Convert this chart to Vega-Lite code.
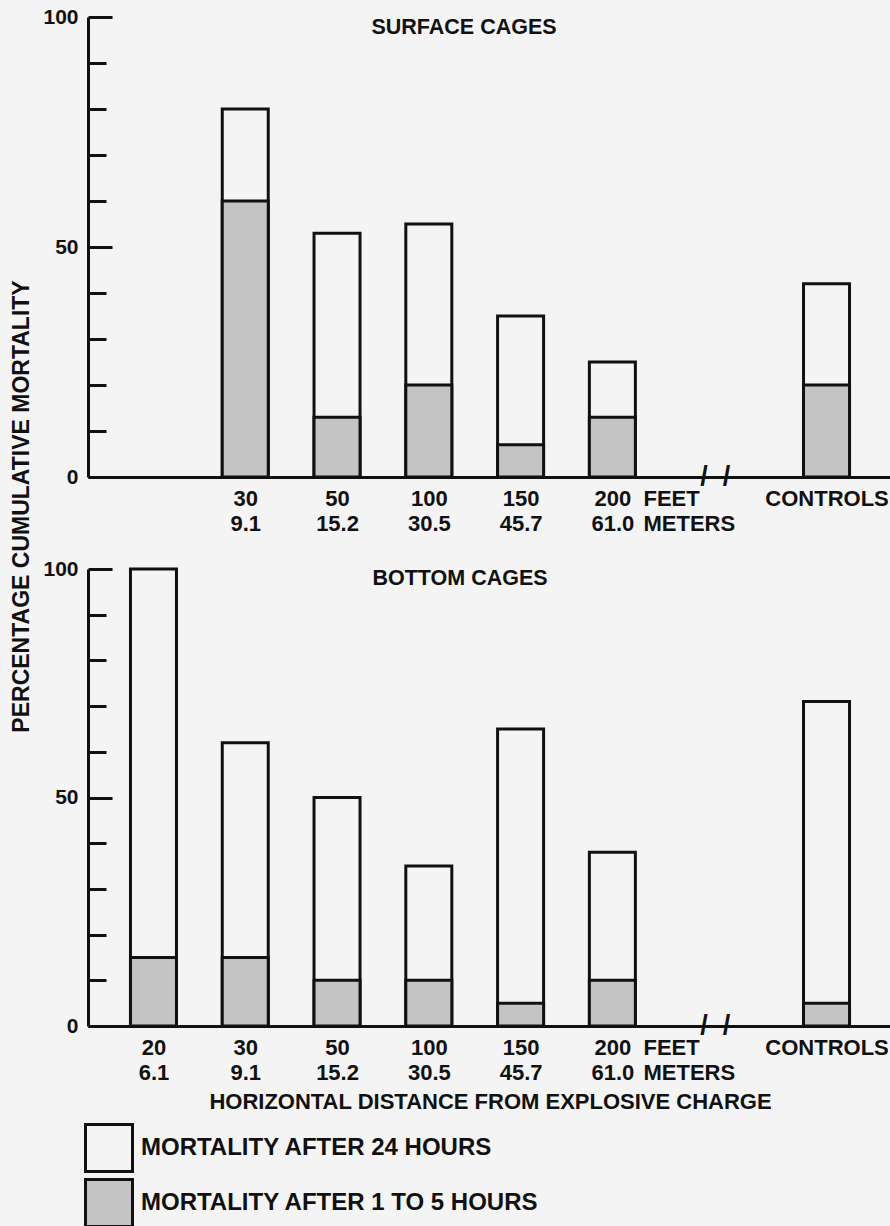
{
  "$schema": "https://vega.github.io/schema/vega-lite/v6.json",
  "background": "#f4f4f4",
  "padding": {"left": 9, "top": 6, "right": 0, "bottom": 0},
  "bounds": "flush",
  "spacing": 92,
  "config": {
    "font": "Liberation Sans",
    "view": {"stroke": null},
    "axis": {
      "labelFont": "Liberation Sans", "labelFontWeight": "bold", "labelFontSize": 22, "labelColor": "#111",
      "titleFont": "Liberation Sans", "titleFontWeight": "bold", "titleFontSize": 22, "titleColor": "#111",
      "domainColor": "#111", "domainWidth": 3, "tickColor": "#111", "tickWidth": 3, "grid": false
    }
  },
  "datasets": {
    "bars": [
      {"panel": "surface", "cat": "30|9.1", "series": "MORTALITY AFTER 24 HOURS", "value": 80},
      {"panel": "surface", "cat": "50|15.2", "series": "MORTALITY AFTER 24 HOURS", "value": 53},
      {"panel": "surface", "cat": "100|30.5", "series": "MORTALITY AFTER 24 HOURS", "value": 55},
      {"panel": "surface", "cat": "150|45.7", "series": "MORTALITY AFTER 24 HOURS", "value": 35},
      {"panel": "surface", "cat": "200|61.0", "series": "MORTALITY AFTER 24 HOURS", "value": 25},
      {"panel": "surface", "cat": "CONTROLS", "series": "MORTALITY AFTER 24 HOURS", "value": 42},
      {"panel": "surface", "cat": "30|9.1", "series": "MORTALITY AFTER 1 TO 5 HOURS", "value": 60},
      {"panel": "surface", "cat": "50|15.2", "series": "MORTALITY AFTER 1 TO 5 HOURS", "value": 13},
      {"panel": "surface", "cat": "100|30.5", "series": "MORTALITY AFTER 1 TO 5 HOURS", "value": 20},
      {"panel": "surface", "cat": "150|45.7", "series": "MORTALITY AFTER 1 TO 5 HOURS", "value": 7},
      {"panel": "surface", "cat": "200|61.0", "series": "MORTALITY AFTER 1 TO 5 HOURS", "value": 13},
      {"panel": "surface", "cat": "CONTROLS", "series": "MORTALITY AFTER 1 TO 5 HOURS", "value": 20},
      {"panel": "bottom", "cat": "20|6.1", "series": "MORTALITY AFTER 24 HOURS", "value": 100},
      {"panel": "bottom", "cat": "30|9.1", "series": "MORTALITY AFTER 24 HOURS", "value": 62},
      {"panel": "bottom", "cat": "50|15.2", "series": "MORTALITY AFTER 24 HOURS", "value": 50},
      {"panel": "bottom", "cat": "100|30.5", "series": "MORTALITY AFTER 24 HOURS", "value": 35},
      {"panel": "bottom", "cat": "150|45.7", "series": "MORTALITY AFTER 24 HOURS", "value": 65},
      {"panel": "bottom", "cat": "200|61.0", "series": "MORTALITY AFTER 24 HOURS", "value": 38},
      {"panel": "bottom", "cat": "CONTROLS", "series": "MORTALITY AFTER 24 HOURS", "value": 71},
      {"panel": "bottom", "cat": "20|6.1", "series": "MORTALITY AFTER 1 TO 5 HOURS", "value": 15},
      {"panel": "bottom", "cat": "30|9.1", "series": "MORTALITY AFTER 1 TO 5 HOURS", "value": 15},
      {"panel": "bottom", "cat": "50|15.2", "series": "MORTALITY AFTER 1 TO 5 HOURS", "value": 10},
      {"panel": "bottom", "cat": "100|30.5", "series": "MORTALITY AFTER 1 TO 5 HOURS", "value": 10},
      {"panel": "bottom", "cat": "150|45.7", "series": "MORTALITY AFTER 1 TO 5 HOURS", "value": 5},
      {"panel": "bottom", "cat": "200|61.0", "series": "MORTALITY AFTER 1 TO 5 HOURS", "value": 10},
      {"panel": "bottom", "cat": "CONTROLS", "series": "MORTALITY AFTER 1 TO 5 HOURS", "value": 5}
    ],
    "brk": [{"cat": "BREAK", "mark": "/\u00a0\u00a0/"}]
  },
  "vconcat": [
    {
      "width": 804, "height": 460,
      "title": {"text": "SURFACE CAGES", "offset": -49, "dx": -26, "frame": "group", "anchor": "middle", "baseline": "alphabetic", "fontSize": 21.5, "fontWeight": "bold", "color": "#111", "font": "Liberation Sans"},
      "layer": [
        {
          "data": {"name": "bars"},
          "transform": [{"filter": "datum.panel === 'surface'"}],
          "mark": {"type": "bar", "width": 46, "stroke": "#111", "strokeWidth": 3, "strokeJoin": "miter"},
          "encoding": {
            "x": {
              "field": "cat", "type": "nominal",
              "scale": {"type": "point", "padding": 0.14, "domain": ["L1", "L2", "20|6.1", "p1", "p2", "30|9.1", "p4", "p5", "50|15.2", "p7", "p8", "100|30.5", "p10", "p11", "150|45.7", "p13", "p14", "200|61.0", "FEET|METERS", "p17", "BREAK", "p19", "p20", "p21", "CONTROLS", "R1", "R2"]},
              "axis": {
                "title": null, "ticks": false, "labelPadding": 11, "labelLineHeight": 25, "labelBaseline": "top",
                "labelOverlap": false, "labelFlush": false, "labelBound": false, "labelAngle": 0,
                "labelAlign": {"condition": {"test": "datum.value === 'FEET|METERS'", "value": "left"}, "value": "center"},
                "labelExpr": "(indexof(datum.value, 'p') === 0 || indexof(datum.value, 'L') === 0 || indexof(datum.value, 'R') === 0 || datum.value === 'BREAK' || datum.value === '20|6.1') ? '' : split(datum.value, '|')"
              }
            },
            "y": {
              "field": "value", "type": "quantitative", "stack": null,
              "scale": {"domain": [0, 100], "nice": false},
              "axis": {
                "values": [0, 10, 20, 30, 40, 50, 60, 70, 80, 90, 100],
                "labelExpr": "datum.value % 50 === 0 ? datum.label : ''",
                "labelFontSize": 21,
                "tickSize": {"condition": {"test": "datum.value % 50 === 0", "value": -24}, "value": -18},
                "labelPadding": 34,
                "title": "PERCENTAGE CUMULATIVE MORTALITY", "titleFontSize": 23,
                "titleX": -67, "titleY": 489, "titleAngle": 270, "titleAlign": "center", "titleBaseline": "middle"
              }
            },
            "fill": {
              "field": "series", "type": "nominal",
              "scale": {"domain": ["MORTALITY AFTER 24 HOURS", "MORTALITY AFTER 1 TO 5 HOURS"], "range": ["#f4f4f4", "#c4c4c4"]},
              "legend": {"orient": "none", "legendX": -4, "legendY": 1106, "title": null, "direction": "vertical", "padding": 0,
                "symbolType": "square", "symbolSize": 2209, "symbolStrokeColor": "#111", "symbolStrokeWidth": 3,
                "labelFont": "Liberation Sans", "labelFontSize": 24, "labelFontWeight": "bold", "labelColor": "#111", "labelOffset": 7, "rowPadding": -8, "labelLimit": 700}
            }
          }
        },
        {
          "data": {"name": "brk"},
          "mark": {"type": "text", "align": "left", "baseline": "middle", "dx": -4, "fontSize": 27, "fontWeight": "bold", "color": "#111", "font": "Liberation Sans"},
          "encoding": {
            "x": {"field": "cat", "type": "nominal"},
            "y": {"datum": 0, "type": "quantitative"},
            "text": {"field": "mark"}
          }
        }
      ]
    },
    {
      "width": 804, "height": 457,
      "title": {"text": "BOTTOM CAGES", "offset": -48, "dx": -30, "frame": "group", "anchor": "middle", "baseline": "alphabetic", "fontSize": 21.5, "fontWeight": "bold", "color": "#111", "font": "Liberation Sans"},
      "layer": [
        {
          "data": {"name": "bars"},
          "transform": [{"filter": "datum.panel === 'bottom'"}],
          "mark": {"type": "bar", "width": 46, "stroke": "#111", "strokeWidth": 3, "strokeJoin": "miter"},
          "encoding": {
            "x": {
              "field": "cat", "type": "nominal",
              "scale": {"type": "point", "padding": 0.14, "domain": ["L1", "L2", "20|6.1", "p1", "p2", "30|9.1", "p4", "p5", "50|15.2", "p7", "p8", "100|30.5", "p10", "p11", "150|45.7", "p13", "p14", "200|61.0", "FEET|METERS", "p17", "BREAK", "p19", "p20", "p21", "CONTROLS", "R1", "R2"]},
              "axis": {
                "title": "HORIZONTAL DISTANCE FROM EXPLOSIVE CHARGE", "titlePadding": 8,
                "ticks": false, "labelPadding": 11, "labelLineHeight": 25, "labelBaseline": "top",
                "labelOverlap": false, "labelFlush": false, "labelBound": false, "labelAngle": 0,
                "labelAlign": {"condition": {"test": "datum.value === 'FEET|METERS'", "value": "left"}, "value": "center"},
                "labelExpr": "(indexof(datum.value, 'p') === 0 || indexof(datum.value, 'L') === 0 || indexof(datum.value, 'R') === 0 || datum.value === 'BREAK') ? '' : split(datum.value, '|')"
              }
            },
            "y": {
              "field": "value", "type": "quantitative", "stack": null,
              "scale": {"domain": [0, 100], "nice": false},
              "axis": {
                "values": [0, 10, 20, 30, 40, 50, 60, 70, 80, 90, 100],
                "labelExpr": "datum.value % 50 === 0 ? datum.label : ''",
                "labelFontSize": 21,
                "tickSize": {"condition": {"test": "datum.value % 50 === 0", "value": -24}, "value": -18},
                "labelPadding": 34,
                "title": null
              }
            },
            "fill": {
              "field": "series", "type": "nominal",
              "scale": {"domain": ["MORTALITY AFTER 24 HOURS", "MORTALITY AFTER 1 TO 5 HOURS"], "range": ["#f4f4f4", "#c4c4c4"]},
              "legend": {"orient": "none", "legendX": -4, "legendY": 1106, "title": null, "direction": "vertical", "padding": 0,
                "symbolType": "square", "symbolSize": 2209, "symbolStrokeColor": "#111", "symbolStrokeWidth": 3,
                "labelFont": "Liberation Sans", "labelFontSize": 24, "labelFontWeight": "bold", "labelColor": "#111", "labelOffset": 7, "rowPadding": -8, "labelLimit": 700}
            }
          }
        },
        {
          "data": {"name": "brk"},
          "mark": {"type": "text", "align": "left", "baseline": "middle", "dx": -4, "fontSize": 27, "fontWeight": "bold", "color": "#111", "font": "Liberation Sans"},
          "encoding": {
            "x": {"field": "cat", "type": "nominal"},
            "y": {"datum": 0, "type": "quantitative"},
            "text": {"field": "mark"}
          }
        }
      ]
    }
  ]
}
